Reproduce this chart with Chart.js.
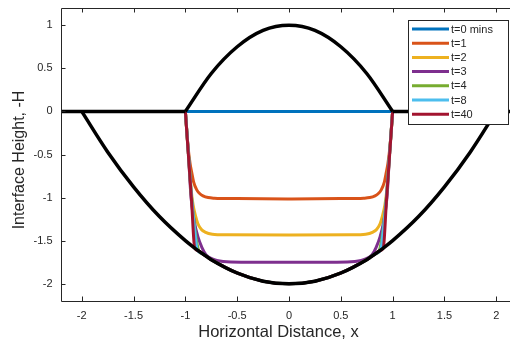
<!DOCTYPE html>
<html><head><meta charset="utf-8">
<script src="https://cdn.jsdelivr.net/npm/chart.js@4"></script>
<style>html,body{margin:0;padding:0;overflow:hidden;background:#fff}#wrap{width:510px;height:341px;overflow:hidden;position:relative}canvas{display:block}</style>
</head><body><div id="wrap"><canvas id="c" width="530" height="341" style="width:530px;height:341px"></canvas></div>
<script>
// ---- data ----
const xTicks = [-2, -1.5, -1, -0.5, 0, 0.5, 1, 1.5, 2];
const yTicks = [-2, -1.5, -1, -0.5, 0, 0.5, 1];
const seriesLabels = ['t=0 mins', 't=1', 't=2', 't=3', 't=4', 't=8', 't=40'];

const t0X = [-1, 1];
const t0Y = [0, 0];
const t1X = [-1, -0.975, -0.955, -0.94, -0.92, -0.89, -0.86, -0.83, -0.78, -0.72, -0.5, 0, 0.5, 0.72, 0.78, 0.83, 0.86, 0.89, 0.92, 0.94, 0.955, 0.975, 1];
const t1Y = [0, -0.4, -0.6, -0.7, -0.82, -0.91, -0.955, -0.98, -1.0, -1.007, -1.012, -1.015, -1.012, -1.007, -1.0, -0.98, -0.955, -0.91, -0.82, -0.7, -0.6, -0.4, 0];
const t2X = [-1, -0.97, -0.945, -0.925, -0.9, -0.88, -0.845, -0.81, -0.74, -0.6, 0, 0.6, 0.74, 0.81, 0.845, 0.88, 0.9, 0.925, 0.945, 0.97, 1];
const t2Y = [0, -0.5, -0.9, -1.09, -1.22, -1.3, -1.37, -1.4, -1.425, -1.432, -1.435, -1.432, -1.425, -1.4, -1.37, -1.3, -1.22, -1.09, -0.9, -0.5, 0];
const t3X = [-1, -0.97, -0.945, -0.91, -0.88, -0.84, -0.8, -0.72, -0.6, -0.4, 0, 0.4, 0.6, 0.72, 0.8, 0.84, 0.88, 0.91, 0.945, 0.97, 1];
const t3Y = [0, -0.5, -1.0, -1.3, -1.45, -1.58, -1.665, -1.72, -1.745, -1.75, -1.75, -1.75, -1.745, -1.72, -1.665, -1.58, -1.45, -1.3, -1.0, -0.5, 0];
const t4X = [-1, -0.97, -0.94, -0.905, -0.87, -0.83, -0.79, -0.75, -0.5, -0.25, 0, 0.25, 0.5, 0.75, 0.79, 0.83, 0.87, 0.905, 0.94, 0.97, 1];
const t4Y = [0, -0.5, -1.0, -1.4, -1.62, -1.655, -1.688, -1.72, -1.875, -1.97, -2, -1.97, -1.875, -1.72, -1.688, -1.655, -1.62, -1.4, -1.0, -0.5, 0];
const t8X = [-1, -0.97, -0.94, -0.91, -0.885, -0.84, -0.79, -0.75, -0.5, -0.25, 0, 0.25, 0.5, 0.75, 0.79, 0.84, 0.885, 0.91, 0.94, 0.97, 1];
const t8Y = [0, -0.5, -1.0, -1.38, -1.608, -1.647, -1.688, -1.72, -1.875, -1.97, -2, -1.97, -1.875, -1.72, -1.688, -1.647, -1.608, -1.38, -1.0, -0.5, 0];
const t40X = [-1, -0.97, -0.94, -0.91, -0.87, -0.83, -0.79, -0.75, -0.5, -0.25, 0, 0.25, 0.5, 0.75, 0.79, 0.83, 0.87, 0.91, 0.94, 0.97, 1];
const t40Y = [0, -0.52, -1.04, -1.586, -1.62, -1.655, -1.688, -1.72, -1.875, -1.97, -2, -1.97, -1.875, -1.72, -1.688, -1.655, -1.62, -1.586, -1.04, -0.52, 0];

const outerX = [-2, -1.75, -1.5, -1.25, -1, -0.91, -0.83, -0.75, -0.5, -0.25, 0, 0.25, 0.5, 0.75, 0.83, 0.91, 1, 1.25, 1.5, 1.75, 2];
const outerY = [0, -0.47, -0.875, -1.22, -1.5, -1.586, -1.655, -1.72, -1.875, -1.97, -2, -1.97, -1.875, -1.72, -1.655, -1.586, -1.5, -1.22, -0.875, -0.47, 0];
const innerX = [-1, -0.75, -0.5, -0.25, 0, 0.25, 0.5, 0.75, 1];
const innerY = [0, 0.44, 0.75, 0.94, 1, 0.94, 0.75, 0.44, 0];
const baseLeftX = [-2.2, -1];
const baseLeftY = [0, 0];
const baseRightX = [1, 2.2];
const baseRightY = [0, 0];

const colors = ['#0072BD', '#D95319', '#EDB120', '#7E2F8E', '#77AC30', '#4DBEEE', '#A2142F'];
const FONT = '"Liberation Sans", Arial, Helvetica, sans-serif';
const INK = '#262626';

function pts(xs, ys) { return xs.map((x, i) => ({ x: x, y: ys[i] })); }

const colored = [[t0X, t0Y], [t1X, t1Y], [t2X, t2Y], [t3X, t3Y], [t4X, t4Y], [t8X, t8Y], [t40X, t40Y]];
const datasets = colored.map((s, i) => ({
  label: seriesLabels[i], data: pts(s[0], s[1]), borderColor: colors[i], backgroundColor: colors[i],
  borderWidth: 3, pointRadius: 0, showLine: true, fill: false, cubicInterpolationMode: 'monotone',
  borderJoinStyle: 'round', order: 8 - i
}));
[[outerX, outerY], [innerX, innerY], [baseLeftX, baseLeftY], [baseRightX, baseRightY]].forEach(s => {
  datasets.push({ label: '', isFrame: true, data: pts(s[0], s[1]), borderColor: '#000', backgroundColor: '#000',
    borderWidth: 3.5, pointRadius: 0, showLine: true, fill: false, cubicInterpolationMode: 'monotone',
    borderJoinStyle: 'round', order: 0 });
});

const framePlugin = {
  id: 'frame',
  afterDraw(chart) {
    const ctx = chart.ctx, a = chart.chartArea, sx = chart.scales.x, sy = chart.scales.y;
    ctx.save();
    ctx.strokeStyle = INK; ctx.lineWidth = 1;
    ctx.beginPath();
    ctx.moveTo(a.right + 20, a.top + 0.5); ctx.lineTo(a.left + 0.5, a.top + 0.5);
    ctx.lineTo(a.left + 0.5, a.bottom + 0.5); ctx.lineTo(a.right + 20, a.bottom + 0.5);
    ctx.stroke();
    const tl = 4.5;
    ctx.beginPath();
    xTicks.forEach(v => {
      const px = Math.round(sx.getPixelForValue(v)) + 0.5;
      ctx.moveTo(px, a.bottom); ctx.lineTo(px, a.bottom - tl);
      ctx.moveTo(px, a.top); ctx.lineTo(px, a.top + tl);
    });
    yTicks.forEach(v => {
      const py = Math.round(sy.getPixelForValue(v)) + 0.5;
      ctx.moveTo(a.left, py); ctx.lineTo(a.left + tl, py);
    });
    ctx.stroke();
    // axis titles
    ctx.fillStyle = INK;
    ctx.font = '16.5px ' + FONT;
    ctx.textAlign = 'center'; ctx.textBaseline = 'alphabetic';
    ctx.fillText('Horizontal Distance, x', 278.5, 336.5);
    ctx.translate(24, 160); ctx.rotate(-Math.PI / 2);
    ctx.font = '16px ' + FONT;
    ctx.fillText('Interface Height, -H', 0, 0);
    ctx.restore();
    // legend
    ctx.save();
    const L = 408.5, T = 20.5, W = 100, H = 104;
    ctx.fillStyle = '#fff'; ctx.fillRect(L, T, W, H);
    ctx.strokeStyle = INK; ctx.lineWidth = 1; ctx.strokeRect(L, T, W, H);
    ctx.font = '11px ' + FONT; ctx.textAlign = 'left'; ctx.textBaseline = 'middle';
    chart.data.datasets.filter(d => !d.isFrame).forEach((d, i) => {
      const y = 29 + i * 14.2;
      ctx.strokeStyle = d.borderColor; ctx.lineWidth = 3;
      ctx.beginPath(); ctx.moveTo(412, y); ctx.lineTo(449, y); ctx.stroke();
      ctx.fillStyle = INK; ctx.fillText(d.label, 451, y + 0.5);
    });
    ctx.restore();
  }
};

function zeroPad(s) { s.paddingTop = 0; s.paddingBottom = 0; s.paddingLeft = 0; s.paddingRight = 0; }

new Chart(document.getElementById('c'), {
  type: 'scatter',
  data: { datasets: datasets },
  options: {
    responsive: false, devicePixelRatio: 1, animation: false,
    layout: { padding: { top: 8, right: 13, left: 0, bottom: 0 } },
    plugins: { legend: { display: false }, tooltip: { enabled: false } },
    scales: {
      x: {
        type: 'linear', min: -2.2, max: 2.2,
        afterBuildTicks: s => { s.ticks = xTicks.map(v => ({ value: v })); },
        afterFit: s => { s.height = 40; zeroPad(s); },
        grid: { display: false, drawTicks: false }, border: { display: false },
        ticks: { color: INK, padding: 8, maxRotation: 0, font: { family: FONT, size: 11 }, callback: v => String(v) }
      },
      y: {
        type: 'linear', min: -2.2, max: 1.2,
        afterBuildTicks: s => { s.ticks = yTicks.map(v => ({ value: v })); },
        afterFit: s => { s.width = 61; zeroPad(s); },
        grid: { display: false, drawTicks: false }, border: { display: false },
        ticks: { color: INK, padding: 8.5, font: { family: FONT, size: 11 }, callback: v => String(v) }
      }
    }
  },
  plugins: [framePlugin]
});
</script>
</body></html>
